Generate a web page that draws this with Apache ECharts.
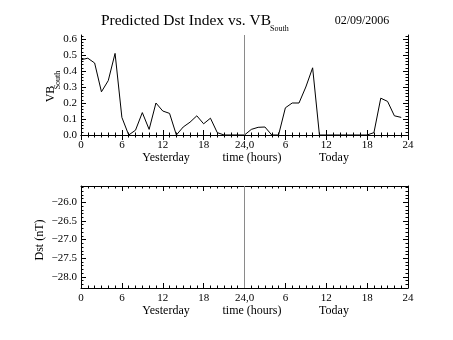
<!DOCTYPE html>
<html>
<head>
<meta charset="utf-8">
<script src="https://cdn.jsdelivr.net/npm/echarts@6/dist/echarts.min.js"></script>
<style>
  html, body { margin: 0; padding: 0; background: #fff; }
  #chart { width: 453px; height: 340px; }
</style>
</head>
<body>
<div id="chart"></div>
<script>
// Hours since the start of yesterday (0-23 yesterday, 24-47 today)
const hours = [0, 1, 2, 3, 4, 5, 6, 7, 8, 9, 10, 11, 12, 13, 14, 15, 16, 17, 18, 19, 20, 21, 22, 23,
               24, 25, 26, 27, 28, 29, 30, 31, 32, 33, 34, 35, 36, 37, 38, 39, 40, 41, 42, 43, 44, 45, 46, 47];
// Southward VB, hourly
const vbSouth = [0.47, 0.48, 0.45, 0.27, 0.34, 0.51, 0.11, 0.0, 0.03, 0.14, 0.035, 0.20,
                 0.15, 0.135, 0.0, 0.05, 0.08, 0.12, 0.07, 0.105, 0.015, 0.0, 0.0, 0.0,
                 0.0, 0.035, 0.048, 0.05, 0.0, 0.0, 0.17, 0.20, 0.20, 0.30, 0.42, 0.0,
                 0.0, 0.0, 0.0, 0.0, 0.0, 0.0, 0.0, 0.015, 0.23, 0.21, 0.12, 0.11];
// Predicted Dst: no values available
const dstPredicted = [];

const xTickLabels = ['0', '6', '12', '18', '24,0', '6', '12', '18', '24'];
const vbTicks = [0, 0.1, 0.2, 0.3, 0.4, 0.5, 0.6];
const vbTickLabels = ['0.0', '0.1', '0.2', '0.3', '0.4', '0.5', '0.6'];
const dstTicks = [-28, -27.5, -27, -26.5, -26];
const dstTickLabels = ['\u221228.0', '\u221227.5', '\u221227.0', '\u221226.5', '\u221226.0'];

const FONT = 'Liberation Serif';
const INK = '#000';
const MAJOR_LEN = 5;
const MINOR_LEN = 2.5;

// minor tick positions between the given bounds
function minorTicks(min, max, step) {
  const out = [];
  const n0 = Math.ceil(min / step - 1e-9), n1 = Math.floor(max / step + 1e-9);
  for (let i = n0; i <= n1; i++) out.push(+(i * step).toFixed(4));
  return out;
}

function xAxesFor(grid) {
  const common = {
    type: 'value', gridIndex: grid, min: 0, max: 48, interval: 6,
    splitLine: { show: false },
    axisLine: { show: true, lineStyle: { color: INK, width: 1 } },
    axisTick: { show: true, inside: true, length: MAJOR_LEN, lineStyle: { color: INK } },
    minorTick: { show: true, splitNumber: 6, length: MINOR_LEN, lineStyle: { color: INK } }
  };
  return [
    Object.assign({}, common, {
      position: 'bottom',
      axisLabel: {
        show: true, margin: 5, fontFamily: FONT, fontSize: 11, color: INK,
        formatter: v => xTickLabels[Math.round(v / 6)]
      }
    }),
    Object.assign({}, common, { position: 'top', axisLabel: { show: false } })
  ];
}

function yAxesFor(grid, min, max, ticks, labels, minorStep) {
  const minors = minorTicks(min, max, minorStep);
  const base = {
    type: 'value', gridIndex: grid, min: min, max: max,
    splitLine: { show: false }
  };
  const major = (pos, withLabels) => Object.assign({}, base, {
    position: pos,
    axisLine: { show: true, lineStyle: { color: INK, width: 1 } },
    axisTick: { show: true, inside: true, length: MAJOR_LEN, customValues: ticks, lineStyle: { color: INK } },
    axisLabel: withLabels ? {
      show: true, margin: 4, fontFamily: FONT, fontSize: 11, color: INK,
      padding: [0, 0, 4, 0],
      customValues: ticks,
      formatter: v => labels[ticks.findIndex(t => Math.abs(t - v) < 1e-6)]
    } : { show: false }
  });
  const minor = pos => Object.assign({}, base, {
    position: pos,
    axisLine: { show: false },
    axisTick: { show: true, inside: true, length: MINOR_LEN, customValues: minors, lineStyle: { color: INK } },
    axisLabel: { show: false }
  });
  return [major('left', true), minor('left'), major('right', false), minor('right')];
}

const midnight = {
  silent: true, symbol: ['none', 'none'],
  label: { show: false },
  lineStyle: { color: '#8a8a8a', width: 1, type: 'solid' },
  data: [{ xAxis: 24 }]
};

const chart = echarts.init(document.getElementById('chart'), null, { renderer: 'canvas' });
chart.setOption({
  animation: false,
  backgroundColor: '#fff',
  grid: [
    { left: 81, top: 35, width: 327, height: 100 },
    { left: 81, top: 186, width: 327, height: 102 }
  ],
  xAxis: [...xAxesFor(0), ...xAxesFor(1)],
  yAxis: [
    ...yAxesFor(0, 0, 0.625, vbTicks, vbTickLabels, 0.02),
    ...yAxesFor(1, -28.3, -25.56, dstTicks, dstTickLabels, 0.1)
  ],
  series: [
    {
      type: 'line', xAxisIndex: 0, yAxisIndex: 0,
      data: hours.map((h, i) => [h, vbSouth[i]]),
      symbol: 'none',
      lineStyle: { color: INK, width: 1 },
      markLine: midnight
    },
    {
      type: 'line', xAxisIndex: 2, yAxisIndex: 4,
      data: dstPredicted,
      symbol: 'none',
      lineStyle: { color: INK, width: 1 },
      markLine: midnight
    }
  ],
  graphic: [
    { type: 'text', x: 271, y: 21, style: { text: 'Predicted Dst Index vs. VB', font: '15.5px "Liberation Serif"', fill: INK, align: 'right', verticalAlign: 'middle' } },
    { type: 'text', x: 270, y: 29, style: { text: 'South', font: '8px "Liberation Serif"', fill: INK, align: 'left', verticalAlign: 'middle' } },
    { type: 'text', x: 362, y: 21, style: { text: '02/09/2006', font: '12px "Liberation Serif"', fill: INK, align: 'center', verticalAlign: 'middle' } },

    { type: 'text', x: 51, y: 94, rotation: Math.PI / 2, style: { text: 'VB', font: '12px "Liberation Serif"', fill: INK, align: 'center', verticalAlign: 'middle' } },
    { type: 'text', x: 57.5, y: 80, rotation: Math.PI / 2, style: { text: 'South', font: '8px "Liberation Serif"', fill: INK, align: 'center', verticalAlign: 'middle' } },
    { type: 'text', x: 40, y: 240, rotation: Math.PI / 2, style: { text: 'Dst (nT)', font: '12px "Liberation Serif"', fill: INK, align: 'center', verticalAlign: 'middle' } },

    { type: 'text', x: 166, y: 158, style: { text: 'Yesterday', font: '12px "Liberation Serif"', fill: INK, align: 'center', verticalAlign: 'middle' } },
    { type: 'text', x: 252, y: 158, style: { text: 'time (hours)', font: '12px "Liberation Serif"', fill: INK, align: 'center', verticalAlign: 'middle' } },
    { type: 'text', x: 334, y: 158, style: { text: 'Today', font: '12px "Liberation Serif"', fill: INK, align: 'center', verticalAlign: 'middle' } },
    { type: 'text', x: 166, y: 311, style: { text: 'Yesterday', font: '12px "Liberation Serif"', fill: INK, align: 'center', verticalAlign: 'middle' } },
    { type: 'text', x: 252, y: 311, style: { text: 'time (hours)', font: '12px "Liberation Serif"', fill: INK, align: 'center', verticalAlign: 'middle' } },
    { type: 'text', x: 334, y: 311, style: { text: 'Today', font: '12px "Liberation Serif"', fill: INK, align: 'center', verticalAlign: 'middle' } }
  ]
});
</script>
</body>
</html>
